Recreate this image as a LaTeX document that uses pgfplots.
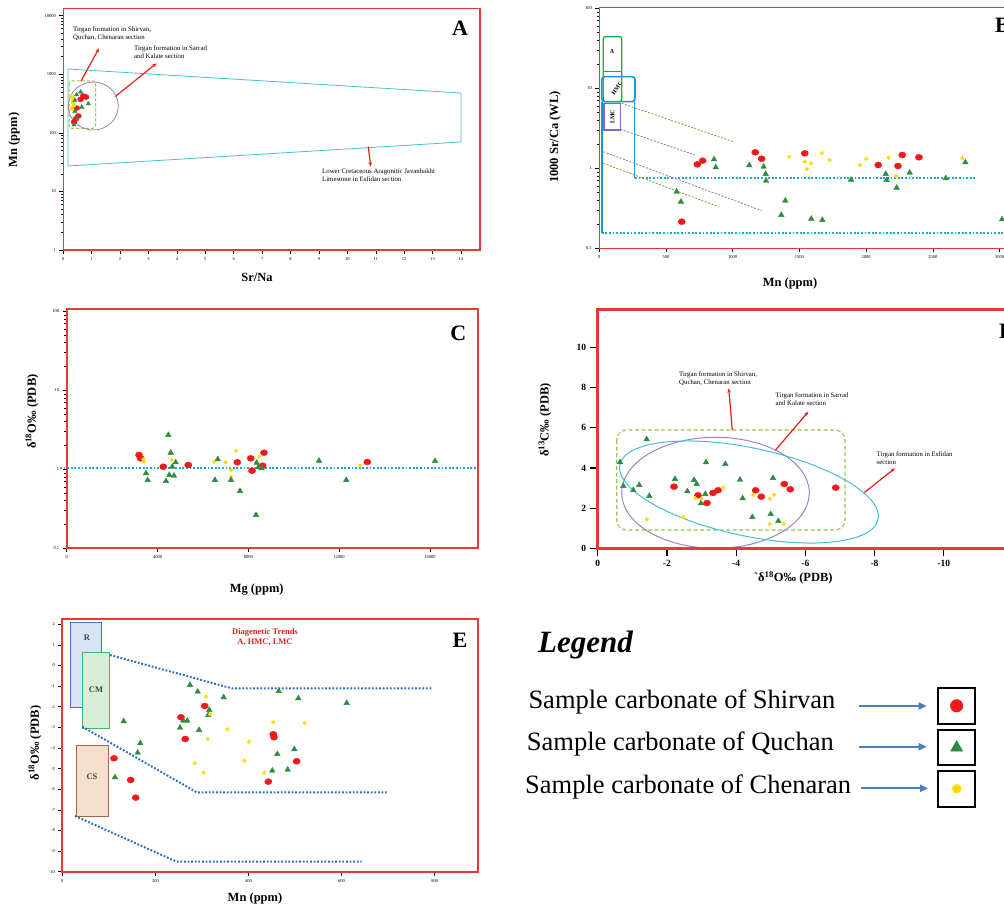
\documentclass[border=0pt]{standalone}
\usepackage{pgfplots}
\pgfplotsset{compat=1.18}
\usepackage{fontspec}
\setmainfont{Liberation Serif}
\usetikzlibrary{arrows.meta}
\definecolor{framered}{RGB}{225,60,55}
\definecolor{ptred}{RGB}{240,25,25}
\definecolor{ptgreen}{RGB}{45,140,65}
\definecolor{ptyellow}{RGB}{255,225,0}
\definecolor{cyanA}{RGB}{70,190,215}
\definecolor{dotcyan}{RGB}{30,165,215}
\definecolor{dotblue}{RGB}{40,110,190}
\definecolor{dashgreen}{RGB}{150,200,80}
\definecolor{purp}{RGB}{160,130,195}
\definecolor{arrred}{RGB}{230,30,30}
\definecolor{legblue}{RGB}{75,125,190}
\pgfplotsset{
  panel/.style={scale only axis, anchor=north west,
    axis line style={draw=framered, line width=1.5pt},
    tick pos=left, tick align=outside, tick style={black, line width=0.5pt},
    major tick length=4pt, minor tick length=2.5pt,
    tick label style={font=\fontsize{4.5}{5}\selectfont},
    scaled x ticks=false, scaled y ticks=false,
    /pgf/number format/assume math mode=true, /pgf/number format/1000 sep={}},
  redpt/.style={only marks, mark=*, mark size=3pt, mark options={fill=ptred, draw=ptred, xscale=1.2}},
  grnpt/.style={only marks, mark=triangle*, mark size=3.2pt, mark options={fill=ptgreen, draw=ptgreen}},
  ylwpt/.style={only marks, mark=*, mark size=1.9pt, mark options={fill=ptyellow, draw=ptyellow!90!orange}},
}
\tikzset{
  ann/.style={font=\fontsize{6.8}{7.8}\selectfont, align=left, anchor=north west, inner sep=0pt},
  lab/.style={font=\fontsize{12.5}{14}\selectfont\bfseries},
  letter/.style={font=\fontsize{22}{24}\selectfont\bfseries},
  rarr/.style={arrred, line width=1.2pt, -{Stealth[length=4.5pt,width=3.5pt]}},
  dots/.style={line width=2pt, dash pattern=on 1.8pt off 1.8pt},
}
\begin{document}
\begin{tikzpicture}
\useasboundingbox (0pt,0pt) rectangle (1004pt,-909pt);
\clip (0pt,0pt) rectangle (1004pt,-909pt);
\fill[white] (0pt,0pt) rectangle (1004pt,-909pt);
\begin{scope}[x=1pt,y=-1pt]
% ---------- Panel A annotations
\draw[cyanA, line width=0.8pt] (68,69)--(461,93)--(461,142)--(68,166)--cycle;
\draw[dashgreen, line width=1pt, dash pattern=on 3pt off 2pt, rounded corners=3pt] (69,81) rectangle (95.7,128.3);
\draw[rarr] (81,81)--(99,48.3);
\draw[rarr] (115,96.7)--(156.7,63.3);
\draw[rarr] (368.3,146.7)--(370.7,166.7);
\node[ann] at (73,27) {Tirgan formation in Shirvan,\\Quchan, Chenaran section};
\node[ann] at (134,45.5) {Tirgan formation in Sarrad\\and Kalate section};
\node[ann] at (322,168.5) {Lower Cretaceous Aragonitic Javanbakht\\Limestone in Esfidan section};
\node[letter] at (460,28) {A};
\node[lab, rotate=90] at (14,140) {Mn (ppm)};
\node[lab] at (257,277) {Sr/Na};
% ---------- Panel B annotations
\draw[dotcyan, dots] (635,177.7)--(976.7,177.7);
\draw[dotcyan, dots] (601.7,233.3)--(1010,233.3);
\draw[green!60!black!70!cyan, line width=1.3pt, rounded corners=2pt] (603.3,36.7) rectangle (621.7,101.7);
\draw[green!60!black!70!cyan, line width=1.3pt] (603.3,71.7)--(621.7,71.7);
\draw[dotcyan!90!blue, line width=1.6pt, rounded corners=3pt] (601.7,76.7) rectangle (635,101.7);
\draw[dotcyan!90!blue, line width=1.6pt] (634.5,101.7)--(634.5,177.7);
\draw[dotcyan!90!blue, line width=1.6pt] (601.7,101.7)--(601.7,233.3);
\draw[purp!80!blue, line width=1.3pt] (604,103.3) rectangle (620.7,130);
\node[font=\fontsize{6}{7}\selectfont\bfseries] at (612,52) {A};
\node[font=\fontsize{6}{7}\selectfont\bfseries, rotate=55] at (617,88) {HMC};
\node[font=\fontsize{6}{7}\selectfont\bfseries, rotate=90] at (612.3,117) {LMC};
\draw[dashgreen!80!black, line width=0.8pt, dash pattern=on 2pt off 1.5pt] (621.7,103.3)--(733.3,141.7);
\draw[dashgreen!80!black, line width=0.8pt, dash pattern=on 2pt off 1.5pt] (603.3,163.3)--(718.3,206.7);
\draw[purp!90!black, line width=0.8pt, dash pattern=on 2pt off 1.5pt] (620.7,129.3)--(695,155);
\draw[purp!90!black, line width=0.8pt, dash pattern=on 2pt off 1.5pt] (603.3,151.7)--(761.7,210.7);
\node[letter, anchor=west] at (991.7,25) {B};
\node[lab, rotate=90] at (555,137) {1000 Sr/Ca (WL)};
\node[lab] at (790,283) {Mn (ppm)};
% ---------- Panel C annotations
\draw[dotcyan, dots] (60,468.3)--(478.3,468.3);
\node[letter] at (458.3,333.3) {C};
\node[lab, rotate=90] at (32,411.7) {δ\textsuperscript{18}O‰ (PDB)};
\node[lab] at (256.7,590) {Mg (ppm)};
% ---------- Panel D annotations
\draw[dashgreen, line width=1.1pt, dash pattern=on 4pt off 2.5pt, rounded corners=10pt] (616.7,430) rectangle (845,530);
\draw[rarr] (732.3,430)--(728.7,388.3);
\draw[rarr] (775,450.7)--(808.3,411.7);
\draw[rarr] (863.3,493.3)--(895,468.3);
\node[ann] at (679,371.5) {Tirgan formation in Shirvan,\\Quchan, Chenaran  section};
\node[ann] at (775.5,393) {Tirgan formation in Sarrad\\and Kalate section};
\node[ann] at (876.5,451.5) {Tirgan formation in Esfidan\\section};
\node[letter, anchor=west] at (995.5,331.7) {D};
\node[lab, rotate=90] at (545,420) {δ\textsuperscript{13}C‰ (PDB)};
\node[lab] at (793.3,577.7) {\textasciigrave δ\textsuperscript{18}O‰ (PDB)};
% ---------- Panel E annotations
\draw[fill={rgb,255:red,215;green,228;blue,245}, draw={rgb,255:red,60;green,120;blue,190}, line width=0.9pt] (70.7,622.7) rectangle (101.7,707.7);
\draw[fill={rgb,255:red,215;green,238;blue,215}, draw={rgb,255:red,70;green,180;blue,110}, line width=0.9pt] (82.3,652.7) rectangle (109.3,728.3);
\draw[fill={rgb,255:red,247;green,222;blue,205}, draw={rgb,255:red,170;green,100;blue,70}, line width=0.9pt] (76,745.7) rectangle (108.3,816.7);
\node[font=\fontsize{8.5}{9}\selectfont\bfseries, text=black!75] at (87,638) {R};
\node[font=\fontsize{8.5}{9}\selectfont\bfseries, text=black!75] at (96,690) {CM};
\node[font=\fontsize{8.5}{9}\selectfont\bfseries, text=black!75] at (92,777) {CS};
\draw[dotblue, dots] (110,655)--(231.7,688.3)--(431.7,688.3);
\draw[dotblue, dots] (82.3,726.7)--(196.7,792.3)--(386.7,792.3);
\draw[dotblue, dots] (75,816)--(176.7,861.7)--(361.7,861.7);
\node[font=\fontsize{8.5}{10}\selectfont\bfseries, text=arrred, align=center] at (265,637.5) {Diagenetic Trends\\A, HMC, LMC};
\node[letter] at (460,640) {E};
\node[lab, rotate=90] at (35,743) {δ\textsuperscript{18}O‰ (PDB)};
\node[lab] at (255,898.3) {Mn (ppm)};
% ---------- Legend
\node[font=\fontsize{31}{34}\selectfont\bfseries\itshape] at (585.5,645) {Legend};
\node[font=\fontsize{26.5}{30}\selectfont, anchor=base west, inner sep=0pt] at (528.3,708.3) {Sample carbonate of Shirvan};
\node[font=\fontsize{26.5}{30}\selectfont, anchor=base west, inner sep=0pt] at (526.7,750) {Sample carbonate of Quchan};
\node[font=\fontsize{26.5}{30}\selectfont, anchor=base west, inner sep=0pt] at (525,793.3) {Sample carbonate of Chenaran};
\draw[legblue, line width=2pt, -{Triangle[length=8pt,width=7pt]}] (859,706)--(926.7,706);
\draw[legblue, line width=2pt, -{Triangle[length=8pt,width=7pt]}] (859,746.7)--(926.7,746.7);
\draw[legblue, line width=2pt, -{Triangle[length=8pt,width=7pt]}] (861,788.3)--(928,788.3);
\draw[black, line width=1.8pt] (938.3,687.7) rectangle (975,724);
\draw[black, line width=1.8pt] (938.3,730) rectangle (975,765);
\draw[black, line width=1.8pt] (938.3,770.7) rectangle (975,806.7);
\end{scope}
% ellipses / circles with explicit units
\draw[purp, line width=0.8pt] (93.3pt,-106pt) ellipse [x radius=25pt, y radius=24pt];
\draw[purp, line width=1pt] (715.5pt,-492.8pt) ellipse [x radius=93.8pt, y radius=55.5pt];
\draw[cyanA, line width=1pt, rotate around={-12:(749pt,-492pt)}] (749pt,-492pt) ellipse [x radius=132pt, y radius=44pt];

% ================= Panel A
\begin{axis}[panel, at={(63.3pt,-8.3pt)}, width=416.7pt, height=241.7pt,
  xmin=0, xmax=14.67, ymode=log, ymin=1, ymax=13335,
  xtick={0,1,...,14}, ytick={1,10,100,1000,10000}, log ticks with fixed point]
\addplot[redpt, mark size=2.5pt] coordinates {(0.70,425) (0.80,408) (0.61,373) (0.47,265) (0.45,174) (0.53,194) (0.38,153)};
\addplot[ylwpt, mark size=2pt] coordinates {(0.30,425) (0.35,382) (0.33,335) (0.38,295) (0.30,258)};
\addplot[grnpt, mark size=2.5pt] coordinates {(0.61,497) (0.47,447) (0.41,359) (0.88,314) (0.65,275) (0.41,233) (0.47,174) (0.38,137)};
\end{axis}

% ================= Panel B
\begin{axis}[panel, at={(599.3pt,-7.3pt)}, width=416.2pt, height=241pt,
  xmin=0, xmax=3120, ymode=log, ymin=0.1, ymax=102.9,
  xtick={0,500,...,3000}, ytick={0.1,1,10,100}, log ticks with fixed point]
\addplot[redpt] coordinates {(735,1.12) (775,1.245) (1169,1.585) (1217,1.318) (1540,1.54) (2091,1.10) (2271,1.466) (2239,1.069) (2396,1.372) (618,0.215)};
\addplot[ylwpt] coordinates {(1424,1.396) (1540,1.209) (1589,1.155) (1557,0.972) (1667,1.54) (1727,1.27) (1954,1.10) (2001,1.307) (2169,1.357) (2224,0.801) (2721,1.334)};
\addplot[grnpt] coordinates {(860,1.296) (873,1.029) (1124,1.09) (1232,1.047) (1247,0.849) (1250,0.700) (1887,0.720) (2147,0.849) (2154,0.714) (2229,0.572) (2327,0.881) (2597,0.750) (2744,1.189) (1394,0.394) (1364,0.261) (1589,0.234) (1672,0.226) (3019,0.230) (580,0.510) (612,0.382)};
\end{axis}

% ================= Panel C
\begin{axis}[panel, at={(66.7pt,-309.3pt)}, width=411.6pt, height=239pt,
  axis line style={draw=framered, line width=2pt},
  xmin=0, xmax=18132, ymode=log, ymin=0.1, ymax=106,
  xtick={0,4000,...,16000}, ytick={0.1,1,10,100}, log ticks with fixed point]
\addplot[redpt] coordinates {(3185,1.517) (3260,1.377) (4256,1.079) (5357,1.133) (7515,1.226) (8106,1.377) (8692,1.622) (8163,0.960) (8634,1.111) (13242,1.237)};
\addplot[ylwpt] coordinates {(3374,1.339) (3405,1.247) (4626,1.312) (6489,1.247) (6987,1.226) (7458,1.719) (7238,0.980) (7238,0.806) (8485,1.444) (12921,1.111)};
\addplot[grnpt] coordinates {(4476,2.716) (4581,1.622) (4802,1.226) (3493,0.890) (3568,0.732) (4374,0.711) (4520,0.847) (4727,0.830) (4652,1.079) (6652,1.339) (6533,0.732) (7238,0.732) (7634,0.531) (8339,0.264) (8370,1.212) (8441,1.060) (8590,1.030) (11115,1.285) (12317,0.732) (16225,1.274)};
\end{axis}

% ================= Panel D
\begin{axis}[panel, at={(597.7pt,-309.3pt)}, width=415.2pt, height=239pt,
  axis line style={draw=framered, line width=3.2pt},
  tick style={black, line width=1.2pt}, major tick length=8pt,
  tick label style={font=\fontsize{9.5}{10}\selectfont\bfseries},
  x dir=reverse, xmin=-12, xmax=0, ymin=0, ymax=11.91,
  xtick={-10,-8,...,0}, ytick={0,2,...,10}]
\addplot[grnpt] coordinates {(-1.416,5.434) (-0.645,4.287) (-0.740,3.106) (-1.029,2.906) (-1.202,3.156) (-1.491,2.607) (-2.234,3.455) (-2.590,2.841) (-2.783,3.405) (-2.861,3.205) (-2.986,2.243) (-3.110,2.707) (-3.130,4.287) (-3.688,4.202) (-4.113,3.420) (-4.191,2.493) (-4.468,1.560) (-5.000,1.710) (-5.066,3.504) (-5.220,1.361)};
\addplot[redpt] coordinates {(-2.205,3.071) (-2.899,2.642) (-3.159,2.258) (-3.332,2.757) (-3.477,2.891) (-4.566,2.891) (-4.728,2.572) (-5.393,3.205) (-5.566,2.941) (-6.879,3.021)};
\addplot[ylwpt] coordinates {(-1.416,1.446) (-2.474,1.560) (-2.812,2.507) (-3.006,2.473) (-3.630,3.021) (-4.497,2.657) (-4.980,2.473) (-5.095,2.672) (-4.980,1.211) (-5.376,1.211)};
\end{axis}

% ================= Panel E
\begin{axis}[panel, at={(62.3pt,-619.3pt)}, width=416pt, height=252.4pt,
  axis line style={draw=framered, line width=2pt},
  xmin=0, xmax=893.7, ymin=-10, ymax=2.24,
  xtick={0,200,...,800}, ytick={-10,-9,...,2}]
\addplot[grnpt] coordinates {(274.3,-0.944) (290.9,-1.269) (346.7,-1.540) (464.9,-1.235) (507,-1.589) (611,-1.817) (315.8,-2.156) (313.6,-2.399) (259.9,-2.675) (268.5,-2.675) (131.9,-2.704) (252.8,-3.015) (293.7,-3.126) (167.6,-3.771) (162,-4.227) (461.9,-4.290) (498.4,-4.062) (451.1,-5.100) (484.2,-5.051) (113.2,-5.420)};
\addplot[redpt] coordinates {(305.9,-1.962) (255,-2.510) (264.2,-3.563) (453.3,-3.335) (454.8,-3.480) (111.1,-4.499) (503.5,-4.644) (146.9,-5.551) (157.7,-6.409) (442.5,-5.633)};
\addplot[ylwpt] coordinates {(308.7,-1.511) (317.3,-2.365) (453.3,-2.753) (520.7,-2.787) (354.5,-3.092) (312.4,-3.563) (401.1,-3.693) (391,-4.615) (284.4,-4.741) (302.9,-5.197) (433.9,-5.197)};
\end{axis}

% ================= Legend markers
\begin{axis}[scale only axis, anchor=north west, at={(938.3pt,-687.7pt)}, width=36.7pt, height=119pt,
  hide axis, xmin=0, xmax=1, ymin=0, ymax=1, clip=false]
\addplot[only marks, mark=*, mark size=6.3pt, mark options={fill=ptred, draw=ptred}] coordinates {(0.5,0.848)};
\addplot[only marks, mark=triangle*, mark size=7pt, mark options={fill=ptgreen, draw=ptgreen}] coordinates {(0.5,0.497)};
\addplot[only marks, mark=*, mark size=4pt, mark options={fill=ptyellow!80!orange, draw=ptyellow, line width=1.5pt}] coordinates {(0.5,0.151)};
\end{axis}
\end{tikzpicture}
\end{document}
